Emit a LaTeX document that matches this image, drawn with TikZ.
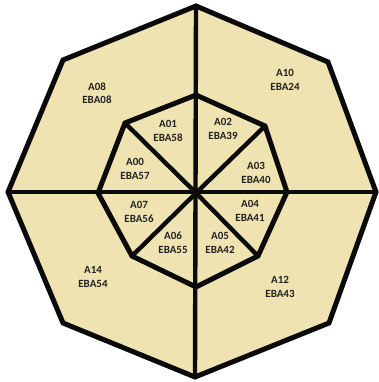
\documentclass[tikz,border=0pt]{standalone}
\usepackage{fontspec}
\setsansfont{Carlito}
\usetikzlibrary{positioning}
\definecolor{sandfill}{RGB}{239,227,178}
\definecolor{inkblack}{RGB}{10,10,10}
\tikzset{
    celllabel/.style={align=center, font=\sffamily\bfseries\fontsize{11}{13.5}\selectfont, text=inkblack!90, inner sep=0pt},
    ringline/.style={draw=inkblack, line width=5pt, line join=miter},
    spokeline/.style={draw=inkblack, line width=4.4pt, line cap=round}
}

\begin{document}
\begin{tikzpicture}[x=1pt, y=-1pt]
\useasboundingbox (0,0) rectangle (379,382);

% outer ring corners
\coordinate (ot) at (196,6);
\coordinate (our) at (328,62);
\coordinate (or) at (376,192);
\coordinate (olr) at (329,323);
\coordinate (ob) at (195,377);
\coordinate (oll) at (63,323);
\coordinate (ol) at (8,192);
\coordinate (oul) at (63,60);

% inner ring corners
\coordinate (it) at (196,95);
\coordinate (iur) at (265,126);
\coordinate (ir) at (287,192);
\coordinate (ilr) at (258,256);
\coordinate (ib) at (196,287);
\coordinate (ill) at (132,256);
\coordinate (il) at (98,193);
\coordinate (iul) at (125,123);
\coordinate (ctr) at (196,193);

\fill[sandfill] (ot) -- (our) -- (or) -- (olr) -- (ob) -- (oll) -- (ol) -- (oul) -- cycle;

% spokes
\draw[spokeline] (ot) -- (ob);
\draw[spokeline] (ol) -- (or);
\draw[spokeline] (iul) -- (ctr) -- (ilr);
\draw[spokeline] (iur) -- (ctr) -- (ill);
\fill[inkblack] (ctr) circle (3.8);

\draw[ringline] (it) -- (iur) -- (ir) -- (ilr) -- (ib) -- (ill) -- (il) -- (iul) -- cycle;
\draw[ringline] (ot) -- (our) -- (or) -- (olr) -- (ob) -- (oll) -- (ol) -- (oul) -- cycle;

% outer cells
\node[celllabel] (a08) at (97,93) {A08\\EBA08};
\node[celllabel] (a10) at (285,80) {A10\\EBA24};
\node[celllabel] (a14) at (93,277) {A14\\EBA54};
\node[celllabel] (a12) at (280,287) {A12\\EBA43};

% inner cells
\node[celllabel] (a01) at (168,131) {A01\\EBA58};
\node[celllabel] (a02) at (223,129) {A02\\EBA39};
\node[celllabel] (a03) at (256,173) {A03\\EBA40};
\node[celllabel] (a00) at (135,169) {A00\\EBA57};
\node[celllabel] (a07) at (139,212) {A07\\EBA56};
\node[celllabel] (a04) at (250,211) {A04\\EBA41};
\node[celllabel] (a06) at (173,243) {A06\\EBA55};
\node[celllabel] (a05) at (220,243) {A05\\EBA42};

\end{tikzpicture}
\end{document}
